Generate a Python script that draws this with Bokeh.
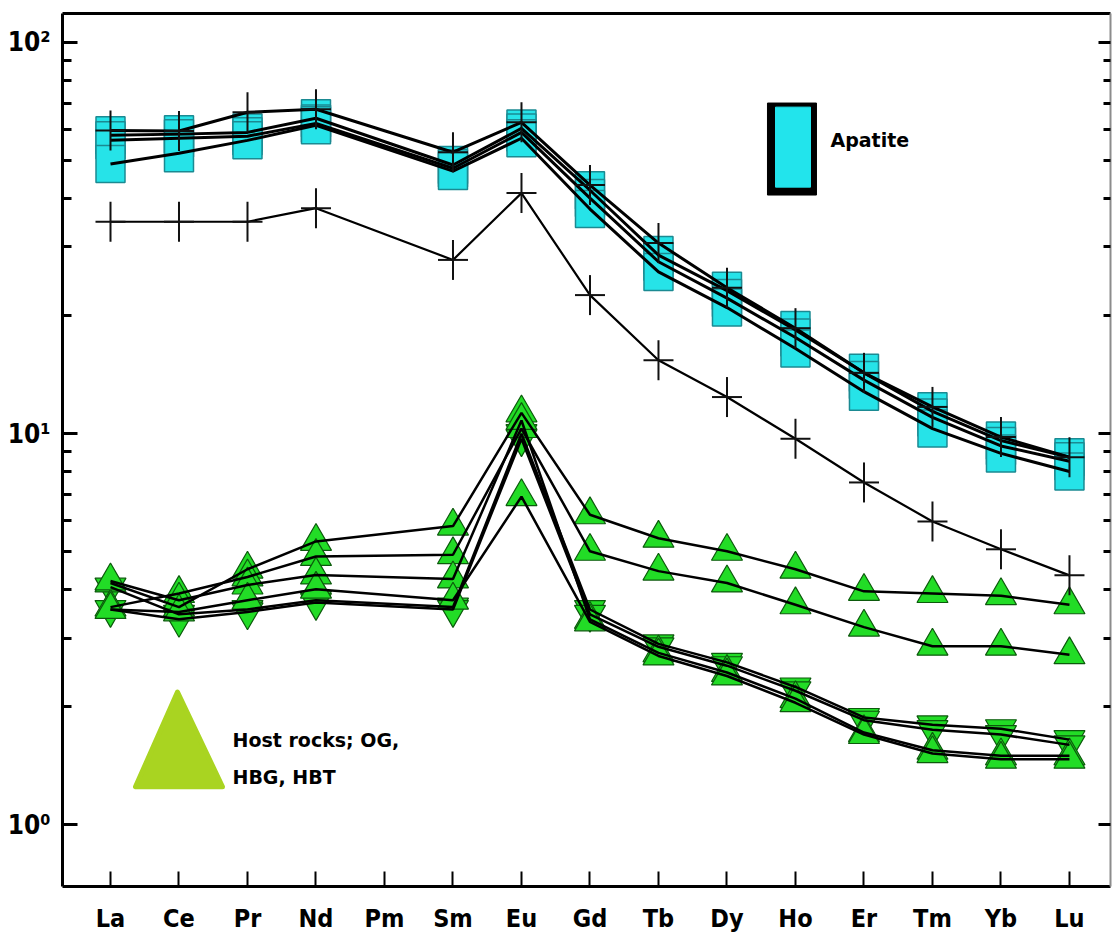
import math

from bokeh.core.properties import value
from bokeh.embed import file_html
from bokeh.models import FixedTicker, LinearAxis, LogAxis, Range1d
from bokeh.plotting import figure
from bokeh.resources import INLINE

# Rare-earth elements along the x axis (Pm is shown but not measured)
ree = ["La", "Ce", "Pr", "Nd", "Pm", "Sm", "Eu", "Gd", "Tb", "Dy", "Ho", "Er", "Tm", "Yb", "Lu"]
measured = ["La", "Ce", "Pr", "Nd", "Sm", "Eu", "Gd", "Tb", "Dy", "Ho", "Er", "Tm", "Yb", "Lu"]

# Chondrite-normalised apatite analyses (square symbols)
apatite_sq1 = [57.9, 58.3, 58.9, 64.0, 48.6, 60.3, 41.9, 28.6, 23.2, 18.4, 14.3, 11.4, 9.6, 8.7]
apatite_sq2 = [56.2, 56.9, 57.6, 62.1, 47.7, 58.9, 40.0, 27.5, 22.2, 17.6, 13.7, 11.0, 9.3, 8.5]
apatite_sq3 = [48.9, 52.1, 56.2, 61.4, 46.9, 56.9, 37.5, 25.9, 21.0, 16.5, 12.8, 10.3, 8.9, 8.0]
# Apatite analyses plotted with cross symbols
apatite_x1 = [59.6, 59.4, 66.3, 67.5, 52.4, 62.5, 43.2, 30.7, 23.6, 18.6, 14.3, 11.7, 9.8, 8.7]
apatite_x2 = [34.8, 34.8, 34.8, 37.7, 27.8, 41.2, 22.6, 15.4, 12.4, 9.7, 7.5, 5.96, 5.06, 4.34]

# Host rocks (OG, HBG, HBT): triangles up / down
host_up1 = [4.15, 3.6, 4.5, 5.3, 5.8, 11.3, 6.2, 5.4, 5.0, 4.5, 3.95, 3.9, 3.85, 3.65]
host_up2 = [3.6, 3.9, 4.3, 4.85, 4.9, 10.3, 5.0, 4.45, 4.15, 3.65, 3.2, 2.86, 2.86, 2.72]
host_dn1 = [4.05, 3.45, 3.55, 3.75, 3.6, 10.0, 3.55, 2.9, 2.6, 2.25, 1.88, 1.8, 1.76, 1.65]
host_dn2 = [3.55, 3.35, 3.5, 3.7, 3.55, 9.7, 3.45, 2.85, 2.55, 2.2, 1.85, 1.75, 1.7, 1.6]
host_up3 = [4.2, 3.75, 4.1, 4.35, 4.25, 10.8, 3.35, 2.75, 2.45, 2.1, 1.72, 1.55, 1.5, 1.5]
host_up4 = [3.55, 3.5, 3.75, 4.0, 3.75, 6.9, 3.3, 2.7, 2.4, 2.05, 1.7, 1.52, 1.47, 1.47]

y_ticks = [1, 10, 100]
y_tick_labels = ["10\u2070", "10\u00b9", "10\u00b2"]

xs = [ree.index(e) + 1 for e in measured]

CYAN = "#26E3E8"
CYAN_EDGE = "#1B8A92"
GREEN = "#22DC26"
GREEN_EDGE = "#0C5A0C"
LIME = "#A9D421"
NARROW = "Liberation Sans Narrow, DejaVu Sans Condensed, sans-serif"
BOLD = "DejaVu Sans"

p = figure(
    width=1115, height=935,
    x_range=Range1d(0.2993, 15.599), y_range=Range1d(0.695, 118.6),
    y_axis_type="log",
    output_backend="svg", toolbar_location=None,
    min_border_left=62, min_border_right=5, min_border_top=13, min_border_bottom=47,
    outline_line_color=None,
    background_fill_color="white", border_fill_color="white",
)
p.grid.visible = False

# bottom axis: element symbols, ticks pointing into the plot
xa = p.xaxis[0]
xa.ticker = FixedTicker(ticks=list(range(1, len(ree) + 1)))
xa.major_label_overrides = {i + 1: e for i, e in enumerate(ree)}
xa.axis_line_width = 3
xa.major_tick_in = 15
xa.major_tick_out = 0
xa.major_tick_line_width = 2
xa.minor_tick_line_color = None
xa.major_label_standoff = 17
xa.major_label_text_font = NARROW
xa.major_label_text_font_style = "bold"
xa.major_label_text_font_size = "25px"
xa.major_label_text_color = "black"

# left log axis
log_ticker = FixedTicker(ticks=y_ticks,
                         minor_ticks=[m * d for d in (1, 10) for m in range(2, 10)])
ya = p.yaxis[0]
ya.ticker = log_ticker
ya.major_label_overrides = dict(zip(y_ticks, y_tick_labels))
ya.axis_line_width = 3
ya.major_tick_in = 15
ya.major_tick_out = 0
ya.minor_tick_in = 9
ya.minor_tick_out = 0
ya.major_tick_line_width = 3
ya.minor_tick_line_width = 3
ya.major_label_standoff = 12
ya.major_label_text_font = NARROW
ya.major_label_text_font_style = "bold"
ya.major_label_text_font_size = "26px"
ya.major_label_text_color = "black"

# right log axis: ticks only
ra = LogAxis(ticker=log_ticker, axis_line_color="#8C8C8C", axis_line_width=2,
             major_tick_in=12, major_tick_out=0, minor_tick_in=7, minor_tick_out=0,
             major_tick_line_width=3, minor_tick_line_width=3,
             major_label_overrides={t: "" for t in y_ticks},
             major_label_text_color=None, major_label_standoff=0)
p.add_layout(ra, "right")

# top frame line
ta = LinearAxis(ticker=FixedTicker(ticks=[50.0]), axis_line_width=3,
                major_tick_in=0, major_tick_out=0, minor_tick_in=0, minor_tick_out=0,
                major_tick_line_color=None, minor_tick_line_color=None,
                major_label_text_color=None, major_label_standoff=0)
p.add_layout(ta, "above")

# apatite squares
for s in (apatite_sq1, apatite_sq2, apatite_sq3):
    p.rect(xs, s, width=29, height=37, width_units="screen", height_units="screen",
           fill_color=CYAN, line_color=CYAN_EDGE, line_width=1.5)

# host-rock triangles
for s in (host_dn1, host_dn2):
    p.scatter(xs, s, marker="inverted_triangle", size=31,
              fill_color=GREEN, line_color=GREEN_EDGE, line_width=1.2)
for s in (host_up1, host_up2, host_up3, host_up4):
    p.scatter(xs, s, marker="triangle", size=31,
              fill_color=GREEN, line_color=GREEN_EDGE, line_width=1.2)

# connecting lines
for s in (apatite_sq1, apatite_sq2, apatite_sq3, apatite_x1):
    p.line(xs, s, line_color="black", line_width=3)
p.line(xs, apatite_x2, line_color="black", line_width=2.2)
for s in (host_up1, host_up2, host_dn1, host_dn2, host_up3, host_up4):
    p.line(xs, s, line_color="black", line_width=2.5)

# cross symbols
for s in (apatite_x1, apatite_x2):
    p.scatter(xs, s, marker="dash", size=30, line_color="#111111", line_width=2)
    p.scatter(xs, s, marker="dash", size=40, angle=math.pi / 2,
              line_color="#111111", line_width=2)

# legend: apatite swatch
p.rect([10.949], [53.4], width=49, height=92, width_units="screen", height_units="screen",
       fill_color="black", line_color="black")
p.rect([10.964], [54.0], width=35, height=80, width_units="screen", height_units="screen",
       fill_color="#22E4EC", line_color="#22E4EC")
p.text([11.511], [56.2], text=["Apatite"], text_font=value(BOLD), text_font_style="bold",
       text_font_size="19px", text_baseline="middle", text_align="left", text_color="black")

# legend: host-rock swatch
p.patch([1.978, 1.365, 2.635], [2.184, 1.250, 1.250], fill_color=LIME,
        line_color=LIME, line_width=5, line_join="round")
p.text([2.781, 2.781], [1.647, 1.326], text=["Host rocks; OG,", "HBG, HBT"],
       text_font=value(BOLD), text_font_style="bold", text_font_size="19px",
       text_baseline="middle", text_align="left", text_color="black")

open("out.html", "w").write(file_html(p, INLINE))
